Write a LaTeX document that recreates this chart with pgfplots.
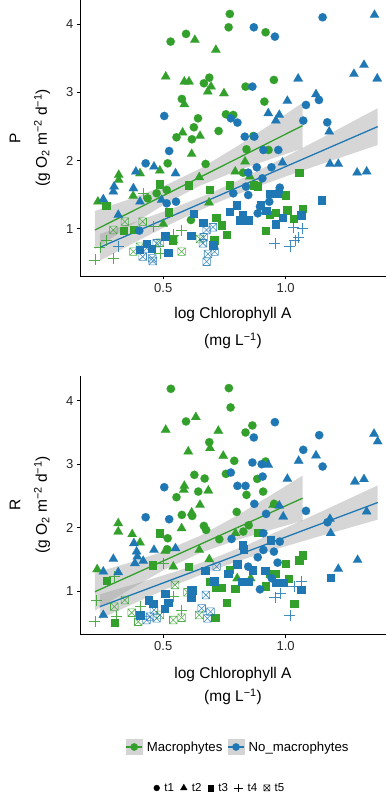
\documentclass[border=0pt]{standalone}
\usepackage{fontspec}
\setmainfont{Liberation Sans}
\usepackage{pgfplots}
\pgfplotsset{compat=1.18}
\definecolor{mgreen}{HTML}{33A02C}
\definecolor{mblue}{HTML}{1F78B4}
\pgfdeclareplotmark{boxx}{%
 \pgfpathrectangle{\pgfpoint{-\pgfplotmarksize}{-\pgfplotmarksize}}{\pgfpoint{2\pgfplotmarksize}{2\pgfplotmarksize}}%
 \pgfpathmoveto{\pgfpoint{-\pgfplotmarksize}{-\pgfplotmarksize}}\pgfpathlineto{\pgfpoint{\pgfplotmarksize}{\pgfplotmarksize}}%
 \pgfpathmoveto{\pgfpoint{-\pgfplotmarksize}{\pgfplotmarksize}}\pgfpathlineto{\pgfpoint{\pgfplotmarksize}{-\pgfplotmarksize}}%
 \pgfusepathqstroke}
\pgfplotsset{
 t1/.style={only marks, mark=*, mark size=4.2pt, mark options={line width=0.1pt}},
 t2/.style={only marks, mark=triangle*, mark size=5.4pt, mark options={line width=0.1pt}},
 t3/.style={only marks, mark=square*, mark size=3.7pt, mark options={line width=0.1pt}},
 t4/.style={only marks, mark=+, mark size=5.5pt, mark options={line width=0.55pt}, opacity=0.85},
 t5/.style={only marks, mark=boxx, mark size=3.8pt, mark options={line width=0.55pt}, opacity=0.85},
 band/.style={fill=black!40, draw=none, opacity=0.4},
 reg/.style={line width=1.3pt, no marks},
 panel/.style={anchor=south west, scale only axis, width=305.7pt,
  xmin=0.161, xmax=1.41,
  axis x line*=bottom, axis y line*=left,
  axis line style={-, line width=0.6pt, black},
  tick align=outside, major tick length=3.5pt,
  tick style={line width=0.6pt, black},
  xtick={0.5,1.0}, xticklabels={0.5,1.0},
  ytick={1,2,3,4}, yticklabels={1,2,3,4},
  /pgf/number format/assume math mode=true,
  tick label style={font=\fontsize{13}{13}\selectfont, text=black!85},
  clip=true},
}
\begin{document}
\begin{tikzpicture}
\useasboundingbox (0,0) rectangle (386pt,799pt);
% ---------------- Panel P ----------------
\begin{axis}[panel, at={(80.3pt,523pt)}, height=276pt, ymin=0.305, ymax=4.357]
\addplot[t1, mgreen] table {
0.530 3.746
0.593 3.859
0.772 4.152
0.767 3.956
0.918 3.883
0.576 2.904
0.688 3.217
0.666 3.134
0.642 2.620
0.625 2.488
0.617 2.312
0.554 2.341
0.726 2.434
0.756 2.679
0.786 2.669
0.836 3.085
0.913 2.865
0.952 3.183
0.673 1.950
0.518 1.959
0.840 2.165
0.826 1.822
0.514 1.568
0.473 1.519
0.613 1.127
0.436 1.445
0.930 2.155
0.868 2.360
};
\addplot[t2, mgreen] table {
0.510 3.232
0.629 3.770
0.715 3.624
0.586 3.159
0.605 3.159
0.695 3.085
0.682 3.012
0.748 2.987
0.586 2.826
0.579 2.410
0.650 2.361
0.616 2.096
0.233 1.396
0.318 1.788
0.318 1.715
0.405 1.812
0.486 1.852
0.794 1.837
0.834 1.984
0.854 1.764
0.647 1.754
0.500 1.069
0.687 1.382
0.377 1.480
};
\addplot[t3, mgreen] table {
0.486 1.656
0.266 1.338
0.603 1.641
0.688 1.578
0.770 1.641
0.715 1.166
0.738 1.054
0.759 0.917
0.817 1.127
0.918 0.971
0.933 1.210
0.959 1.240
1.000 1.494
1.006 1.274
1.033 1.152
1.069 1.299
1.054 1.822
0.884 1.627
0.868 1.641
0.538 0.834
0.707 0.834
0.522 1.245
0.337 0.971
0.378 0.990
};
\addplot[t4, mgreen] table {
0.221 0.540
0.296 0.564
0.241 0.726
0.266 0.824
0.575 0.980
0.541 0.907
0.486 0.638
0.459 1.029
0.418 1.519
};
\addplot[t5, mgreen] table {
0.343 1.103
0.416 1.103
0.378 0.662
0.575 0.662
0.544 0.843
0.296 0.980
0.650 0.848
0.405 0.736
0.486 0.794
};
\addplot[t1, mblue] table {
0.870 3.956
0.956 3.819
1.151 4.103
0.864 3.085
1.083 2.816
1.136 2.889
1.072 2.586
1.170 2.561
0.504 2.654
0.524 2.140
0.428 1.959
0.776 2.620
0.803 2.557
0.833 2.351
0.872 2.351
0.909 2.155
0.882 1.901
0.905 1.739
0.976 1.602
0.973 1.543
0.933 1.396
0.847 1.494
0.838 1.617
0.786 1.519
0.847 1.822
0.942 1.901
0.552 1.396
0.514 1.372
0.402 0.971
0.970 2.155
0.895 1.323
0.886 1.225
};
\addplot[t2, mblue] table {
1.363 4.137
1.279 3.271
1.320 3.403
1.374 3.203
1.051 3.203
1.124 2.973
1.007 2.875
0.929 2.694
0.974 2.669
0.960 2.586
1.178 2.424
1.181 1.950
1.215 1.950
1.292 1.822
1.331 1.837
0.987 1.969
0.388 1.837
0.462 1.910
0.550 1.812
0.255 1.431
0.296 1.543
0.299 1.617
0.378 1.592
0.316 1.201
0.405 1.396
0.493 1.421
};
\addplot[t3, mblue] table {
1.146 1.421
0.770 1.250
0.800 1.348
0.823 1.201
0.813 1.127
0.847 1.127
0.936 1.519
0.967 1.519
0.897 1.348
0.920 1.264
0.988 1.166
0.959 1.069
1.063 1.201
0.613 0.897
0.623 1.225
0.507 0.892
0.520 0.648
0.703 0.760
0.663 1.088
0.432 0.785
0.452 0.711
0.402 0.697
};
\addplot[t4, mblue] table {
0.956 0.785
1.017 0.736
1.031 1.020
1.069 1.005
1.052 0.873
1.038 0.824
0.316 0.736
};
\addplot[t5, mblue] table {
0.677 0.980
0.703 1.020
0.665 0.873
0.710 0.662
0.683 0.628
0.677 0.515
0.416 0.589
0.457 0.525
0.432 0.711
0.473 0.785
0.662 0.785
0.455 0.564
};
% bands and lines
\addplot[band] coordinates {(0.221,1.260) (0.35,1.418) (0.5,1.621) (0.65,1.879) (0.8,2.205) (0.95,2.559) (1.069,2.847)
 (1.069,2.177) (0.95,2.035) (0.8,1.847) (0.65,1.631) (0.5,1.347) (0.35,1.008) (0.221,0.700)} -- cycle;
\addplot[reg, mgreen] coordinates {(0.221,0.980) (1.069,2.512)};
\addplot[band] coordinates {(0.241,0.921) (0.4,1.119) (0.55,1.314) (0.7,1.532) (0.85,1.783) (1.0,2.056) (1.15,2.337) (1.376,2.768)
 (1.376,2.228) (1.15,1.953) (1.0,1.766) (0.85,1.571) (0.7,1.352) (0.55,1.102) (0.4,0.829) (0.241,0.531)} -- cycle;
\addplot[reg, mblue] coordinates {(0.241,0.726) (1.376,2.498)};
\end{axis}
% ---------------- Panel R ----------------
\begin{axis}[panel, at={(80.3pt,164.7pt)}, height=258.3pt, ymin=0.317, ymax=4.391]
\addplot[t1, mgreen] table {
0.531 4.189
0.768 4.200
0.775 3.895
0.593 3.674
0.688 3.347
0.836 3.500
0.864 3.611
0.790 3.053
0.918 3.042
0.627 2.832
0.669 2.774
0.643 2.568
0.554 2.479
0.576 2.200
0.618 2.184
0.666 2.026
0.675 1.963
0.756 2.847
0.840 2.516
0.884 2.768
0.908 2.568
0.800 2.247
0.849 2.037
0.827 1.937
0.729 1.816
0.518 1.832
0.516 1.658
0.953 2.374
};
\addplot[t2, mgreen] table {
0.633 3.742
0.510 3.542
0.725 3.526
0.602 3.200
0.691 3.253
0.745 3.132
0.586 2.658
0.584 2.595
0.684 2.584
0.650 2.358
0.616 2.237
0.575 1.989
0.316 2.068
0.316 1.937
0.373 1.895
0.405 1.763
0.230 1.342
0.508 1.632
0.647 1.647
0.688 1.500
0.541 1.384
0.795 1.911
0.802 1.200
0.857 1.200
0.949 2.358
};
\addplot[t3, mgreen] table {
0.486 1.911
0.603 1.384
0.770 1.342
0.688 1.147
0.715 1.053
0.738 1.053
0.793 1.042
0.759 0.816
0.888 1.921
0.918 1.079
0.933 1.279
0.959 1.279
1.000 1.437
1.011 1.200
1.034 0.805
1.054 1.489
1.069 1.568
0.456 1.411
0.269 1.163
0.301 0.505
0.711 0.579
0.612 1.016
};
\addplot[t4, mgreen] table {
0.221 0.516
0.228 0.847
0.299 1.226
0.575 0.689
0.541 0.911
0.500 1.437
0.310 0.595
0.405 0.753
};
\addplot[t5, mgreen] table {
0.548 1.095
0.599 0.979
0.541 0.542
0.575 0.579
0.647 0.621
0.398 0.516
0.371 0.658
0.300 0.753
0.343 0.858
0.486 0.621
};
\addplot[t1, mblue] table {
0.956 3.663
1.137 3.458
1.072 3.226
1.151 2.963
0.870 3.421
0.864 3.026
0.902 3.000
0.776 2.868
0.803 2.658
0.836 2.658
0.872 2.374
0.906 2.805
0.504 2.637
0.524 2.132
0.428 2.163
1.083 2.263
1.171 2.084
0.779 1.821
0.909 1.911
0.886 1.532
0.909 1.647
0.952 1.621
0.976 1.779
0.967 1.447
0.847 1.384
0.895 1.026
0.943 1.200
0.920 2.216
};
\addplot[t2, mblue] table {
1.361 3.479
1.376 3.358
1.053 3.053
1.124 3.137
0.929 2.989
1.007 2.768
1.283 2.726
1.320 2.763
1.331 2.253
1.181 2.137
1.184 1.911
1.215 1.347
1.294 1.489
0.974 2.347
0.990 2.174
0.296 1.505
0.255 1.305
0.316 1.295
0.380 1.753
0.391 1.621
0.394 1.542
0.462 1.647
0.550 1.674
0.255 0.621
0.418 1.474
0.384 1.437
};
\addplot[t3, mblue] table {
1.184 1.216
1.063 1.026
0.765 1.279
0.801 1.426
0.823 1.726
0.827 1.663
0.864 1.332
0.847 1.147
0.820 1.147
0.915 1.321
0.938 1.805
0.989 1.132
0.960 1.132
0.618 1.016
0.613 0.900
0.670 1.321
0.707 1.158
0.507 0.963
0.504 0.726
0.520 0.816
0.405 0.621
0.439 0.858
0.459 0.805
};
\addplot[t4, mblue] table {
0.956 0.900
0.977 0.963
1.017 0.621
1.034 1.068
1.065 1.147
};
\addplot[t5, mblue] table {
0.718 1.384
0.674 0.937
0.657 0.726
0.693 0.674
0.680 0.568
0.462 0.700
0.446 0.595
0.432 0.542
0.473 0.568
};
\addplot[band] coordinates {(0.221,1.287) (0.35,1.432) (0.5,1.622) (0.65,1.870) (0.8,2.187) (0.95,2.536) (1.069,2.819)
 (1.069,2.107) (0.95,1.976) (0.8,1.803) (0.65,1.600) (0.5,1.326) (0.35,0.994) (0.221,0.691)} -- cycle;
\addplot[reg, mgreen] coordinates {(0.221,0.989) (1.069,2.463)};
\addplot[band] coordinates {(0.241,0.948) (0.4,1.128) (0.55,1.306) (0.7,1.507) (0.85,1.740) (1.0,1.996) (1.15,2.260) (1.376,2.665)
 (1.376,2.125) (1.15,1.876) (1.0,1.706) (0.85,1.528) (0.7,1.327) (0.55,1.094) (0.4,0.838) (0.241,0.558)} -- cycle;
\addplot[reg, mblue] coordinates {(0.241,0.753) (1.376,2.395)};
\end{axis}
% ---------------- axis titles ----------------
\begin{scope}[every node/.style={font=\fontsize{15.5}{15.5}\selectfont, inner sep=0pt}]
\node[rotate=90] at (15pt,661pt) {P};
\node[rotate=90] at (42pt,661pt) {(g O\textsubscript{2} m\textsuperscript{\char"2212 2} d\textsuperscript{\char"2212 1})};
\node at (233pt,484pt) {log Chlorophyll A};
\node at (233pt,458pt) {(mg L\textsuperscript{\char"2212 1})};
\node[rotate=90] at (15pt,294pt) {R};
\node[rotate=90] at (42pt,294pt) {(g O\textsubscript{2} m\textsuperscript{\char"2212 2} d\textsuperscript{\char"2212 1})};
\node at (233pt,125pt) {log Chlorophyll A};
\node at (233pt,102pt) {(mg L\textsuperscript{\char"2212 1})};
\end{scope}
% ---------------- legends ----------------
\begin{axis}[at={(238pt,52pt)}, anchor=center, hide axis, scale only axis, width=1pt, height=1pt,
  xmin=0, xmax=1, ymin=0, ymax=1,
  legend columns=2,
  legend style={at={(0.5,0.5)}, anchor=center, draw=none, fill=none,
   font=\fontsize{13.2}{13.2}\selectfont, inner sep=0pt,
   /tikz/every odd column/.style={column sep=2pt},
   /tikz/every even column/.style={column sep=3pt}}]
\addlegendimage{color=mgreen, legend image code/.code={
  \fill[black!17] (0pt,-7.5pt) rectangle (16pt,7.5pt);
  \draw[line width=1.3pt] (0pt,0pt) -- (16pt,0pt);
  \fill (8pt,0pt) circle (3.6pt);}}
\addlegendentry{Macrophytes}
\addlegendimage{color=mblue, legend image code/.code={
  \fill[black!17] (0pt,-7.5pt) rectangle (16pt,7.5pt);
  \draw[line width=1.3pt] (0pt,0pt) -- (16pt,0pt);
  \fill (8pt,0pt) circle (3.6pt);}}
\addlegendentry{No\_macrophytes}
\end{axis}
\begin{axis}[at={(220pt,11pt)}, anchor=center, hide axis, scale only axis, width=1pt, height=1pt,
  xmin=0, xmax=1, ymin=0, ymax=1,
  legend columns=5,
  legend style={at={(0.5,0.5)}, anchor=center, draw=none, fill=none,
   font=\fontsize{11.5}{11.5}\selectfont, inner sep=0pt,
   /tikz/every odd column/.style={column sep=2.8pt},
   /tikz/every even column/.style={column sep=4.5pt}},
  legend image post style={black}]
\addlegendimage{only marks, mark=*, mark size=2.9pt}
\addlegendentry{t1}
\addlegendimage{only marks, mark=triangle*, mark size=3.8pt}
\addlegendentry{t2}
\addlegendimage{only marks, mark=square*, mark size=2.8pt}
\addlegendentry{t3}
\addlegendimage{only marks, mark=+, mark size=4.2pt, mark options={line width=0.5pt}}
\addlegendentry{t4}
\addlegendimage{only marks, mark=boxx, mark size=3pt, mark options={line width=0.5pt}}
\addlegendentry{t5}
\end{axis}
\end{tikzpicture}
\end{document}
